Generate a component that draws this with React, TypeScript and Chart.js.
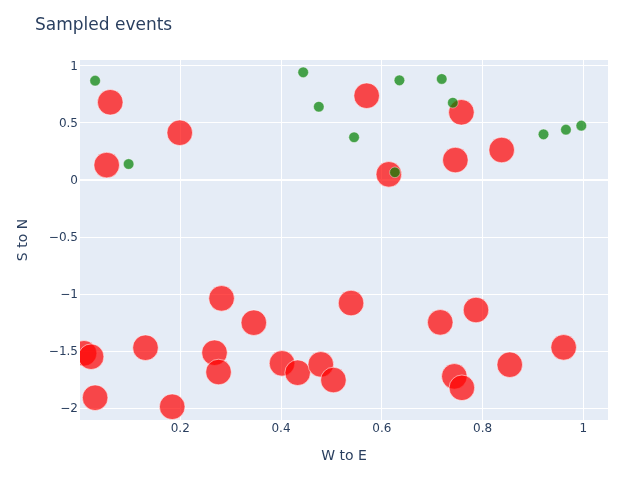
import React, { useEffect, useRef } from "react";
import { Chart, registerables } from "chart.js";

Chart.register(...registerables);

const chartTitle = "Sampled events";
const xTitle = "W to E";
const yTitle = "S to N";

const xTicks = [0.2, 0.4, 0.6, 0.8, 1];
const yTicks = [-2, -1.5, -1, -0.5, 0, 0.5, 1];

const redX = [0.061, 0.199, 0.054, 0.570, 0.758, 0.614, 0.746, 0.838, 0.009, 0.023, 0.131, 0.282, 0.346, 0.268, 0.276, 0.402, 0.433, 0.031, 0.184, 0.479, 0.504, 0.539, 0.716, 0.787, 0.961, 0.854, 0.744, 0.759];
const redY = [0.680, 0.413, 0.130, 0.737, 0.592, 0.049, 0.174, 0.262, -1.518, -1.548, -1.469, -1.037, -1.250, -1.513, -1.682, -1.606, -1.688, -1.907, -1.986, -1.615, -1.752, -1.078, -1.247, -1.139, -1.466, -1.618, -1.720, -1.820];

const greenX = [0.031, 0.0975, 0.444, 0.475, 0.545, 0.635, 0.626, 0.719, 0.741, 0.921, 0.9655, 0.996];
const greenY = [0.869, 0.139, 0.942, 0.641, 0.373, 0.872, 0.0665, 0.884, 0.676, 0.399, 0.440, 0.475];

const FONT = '"DejaVu Sans", Verdana, sans-serif';
const TEXT = "#2a3f5f";

const fmt = (v: number) => (v < 0 ? "\u2212" + String(Math.abs(v)) : String(v));

const decorPlugin = {
  id: "decor",
  beforeDraw(chart: any) {
    const { ctx, chartArea } = chart;
    ctx.save();
    ctx.fillStyle = "#E5ECF6";
    ctx.fillRect(chartArea.left, chartArea.top, chartArea.right - chartArea.left, chartArea.bottom - chartArea.top);
    ctx.restore();
  },
  afterDraw(chart: any) {
    const { ctx, chartArea } = chart;
    ctx.save();
    ctx.fillStyle = TEXT;
    ctx.font = `17px ${FONT}`;
    ctx.textAlign = "left";
    ctx.textBaseline = "alphabetic";
    ctx.fillText(chartTitle, 35, 30);
    ctx.font = `14px ${FONT}`;
    ctx.textAlign = "center";
    ctx.fillText(xTitle, (chartArea.left + chartArea.right) / 2, 460);
    ctx.translate(26.5, (chartArea.top + chartArea.bottom) / 2);
    ctx.rotate(-Math.PI / 2);
    ctx.fillText(yTitle, 0, 0);
    ctx.restore();
  },
};

export default function App() {
  const ref = useRef<HTMLCanvasElement | null>(null);
  useEffect(() => {
    if (!ref.current) return;
    const chart = new Chart(ref.current, {
      type: "scatter",
      data: {
        datasets: [
          {
            label: "green",
            data: greenX.map((x, i) => ({ x, y: greenY[i] })),
            backgroundColor: "rgba(0,128,0,0.7)",
            borderColor: "rgba(255,255,255,0.7)",
            borderWidth: 0.6,
            pointRadius: 5.3,
            pointHoverRadius: 5.3,
            order: 0,
            clip: 0,
          },
          {
            label: "red",
            data: redX.map((x, i) => ({ x, y: redY[i] })),
            backgroundColor: "rgba(255,0,0,0.7)",
            borderColor: "rgba(255,255,255,0.7)",
            borderWidth: 0.8,
            pointRadius: 12.8,
            pointHoverRadius: 12.8,
            order: 1,
            clip: 0,
          },
        ],
      },
      options: {
        responsive: false,
        animation: false,
        events: [],
        layout: { padding: { left: 0, right: 19, top: 60, bottom: 0 } },
        plugins: { legend: { display: false }, title: { display: false }, tooltip: { enabled: false } },
        scales: {
          x: {
            type: "linear",
            min: 0.001,
            max: 1.049,
            afterFit: (s: any) => { s.height = 59; },
            afterBuildTicks: (s: any) => { s.ticks = xTicks.map((v) => ({ value: v })); },
            grid: { color: "#ffffff", lineWidth: 1, drawTicks: false },
            border: { display: false },
            ticks: { padding: 2, color: TEXT, font: { family: FONT, size: 12 }, maxRotation: 0, callback: (v: any) => fmt(Number(v)) },
          },
          y: {
            type: "linear",
            min: -2.102,
            max: 1.05,
            afterFit: (s: any) => { s.width = 80; },
            afterBuildTicks: (s: any) => { s.ticks = yTicks.map((v) => ({ value: v })); },
            grid: {
              color: "#ffffff",
              lineWidth: (c: any) => (c.tick && c.tick.value === 0 ? 2 : 1),
              drawTicks: false,
            },
            border: { display: false },
            ticks: { padding: 2, labelOffset: 1, color: TEXT, font: { family: FONT, size: 12 }, callback: (v: any) => fmt(Number(v)) },
          },
        },
      },
      plugins: [decorPlugin],
    } as any);
    return () => chart.destroy();
  }, []);
  return (
    <div style={{ position: "fixed", left: 0, top: 0, width: 627, height: 479, background: "#fff" }}>
      <canvas ref={ref} width={627} height={479} style={{ display: "block" }} />
    </div>
  );
}
